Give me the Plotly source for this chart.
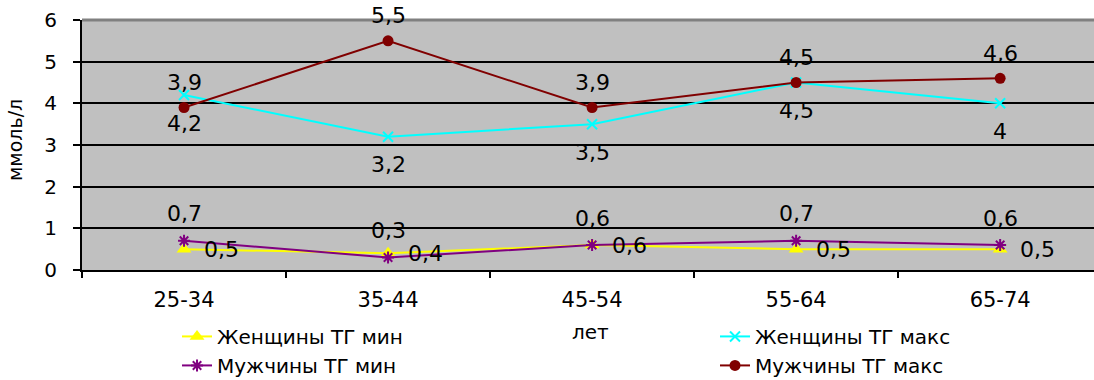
import plotly.graph_objects as go

# Age groups and triglyceride ranges (mmol/l)
age_groups = ["25-34", "35-44", "45-54", "55-64", "65-74"]
women_tg_min = [0.5, 0.4, 0.6, 0.5, 0.5]
women_tg_max = [4.2, 3.2, 3.5, 4.5, 4.0]
men_tg_min = [0.7, 0.3, 0.6, 0.7, 0.6]
men_tg_max = [3.9, 5.5, 3.9, 4.5, 4.6]

FONT = "DejaVu Sans"


def fmt(v):
    return f"{v:g}".replace(".", ",")


fig = go.Figure()

fig.add_trace(go.Scatter(
    x=age_groups, y=women_tg_min, name="Женщины ТГ мин", legend="legend",
    mode="lines+markers", line=dict(color="#FFFF00", width=2),
    marker=dict(symbol="triangle-up", size=13, color="#FFFF00"),
))
fig.add_trace(go.Scatter(
    x=age_groups, y=women_tg_max, name="Женщины ТГ макс", legend="legend2",
    mode="lines+markers", line=dict(color="#00FFFF", width=2),
    marker=dict(symbol="x-thin", size=10, line=dict(color="#00FFFF", width=2)),
))
fig.add_trace(go.Scatter(
    x=age_groups, y=men_tg_min, name="Мужчины ТГ мин", legend="legend",
    mode="lines+markers", line=dict(color="#800080", width=2),
    marker=dict(symbol="asterisk-open", size=10, line=dict(color="#800080", width=2)),
))
fig.add_trace(go.Scatter(
    x=age_groups, y=men_tg_max, name="Мужчины ТГ макс", legend="legend2",
    mode="lines+markers", line=dict(color="#800000", width=2),
    marker=dict(symbol="circle", size=11, color="#800000"),
))

# Value labels
label_font = dict(family=FONT, size=22, color="black")
annotations = []
for cat, v in zip(age_groups, men_tg_max):
    annotations.append(dict(x=cat, y=v, text=fmt(v), showarrow=False, yshift=25, font=label_font))
for cat, v in zip(age_groups, women_tg_max):
    annotations.append(dict(x=cat, y=v, text=fmt(v), showarrow=False, yshift=-28, font=label_font))
for cat, v in zip(age_groups, men_tg_min):
    annotations.append(dict(x=cat, y=v, text=fmt(v), showarrow=False, yshift=27, font=label_font))
for cat, v in zip(age_groups, women_tg_min):
    annotations.append(dict(x=cat, y=v, text=fmt(v), showarrow=False, xshift=37, font=label_font))

# Axis titles
annotations.append(dict(xref="paper", yref="paper", x=-0.0662, y=0.52, xanchor="center",
                        yanchor="middle", text="ммоль/л", textangle=-90, showarrow=False,
                        font=dict(family=FONT, size=19)))
annotations.append(dict(xref="paper", yref="paper", x=0.502, y=-0.248, xanchor="center",
                        yanchor="middle", text="лет", showarrow=False,
                        font=dict(family=FONT, size=20)))

legend_common = dict(
    orientation="v", xanchor="left", yanchor="top", yref="container",
    font=dict(family=FONT, size=20, color="black"),
    bgcolor="rgba(0,0,0,0)", borderwidth=0, tracegroupgap=0,
)

fig.update_layout(
    width=1094, height=380,
    margin=dict(l=82, r=0, t=20, b=110, autoexpand=False),
    paper_bgcolor="white",
    plot_bgcolor="#C0C0C0",
    font=dict(family=FONT, color="black"),
    showlegend=True,
    legend=dict(x=0.0939, y=0.166, **legend_common),
    legend2=dict(x=0.6255, y=0.166, **legend_common),
    annotations=annotations,
    shapes=[dict(type="line", xref="paper", yref="paper", x0=0, x1=1, y0=1, y1=1,
                 line=dict(color="#808080", width=3))],
    xaxis=dict(
        type="category", range=[-0.5, 4.46],
        showgrid=False, showline=True, linecolor="black", linewidth=2,
        ticks="outside", tickson="boundaries", ticklen=6, tickwidth=2, tickcolor="black",
        tickfont=dict(family=FONT, size=21), ticklabelstandoff=10,
        zeroline=False,
    ),
    yaxis=dict(
        range=[0, 6], tickvals=[0, 1, 2, 3, 4, 5, 6],
        showgrid=True, gridcolor="black", gridwidth=2,
        showline=True, linecolor="black", linewidth=2,
        ticks="outside", ticklen=7, tickwidth=2, tickcolor="black",
        tickfont=dict(family=FONT, size=20), ticklabelstandoff=12,
        zeroline=False,
    ),
)

fig.write_html("out.html")
